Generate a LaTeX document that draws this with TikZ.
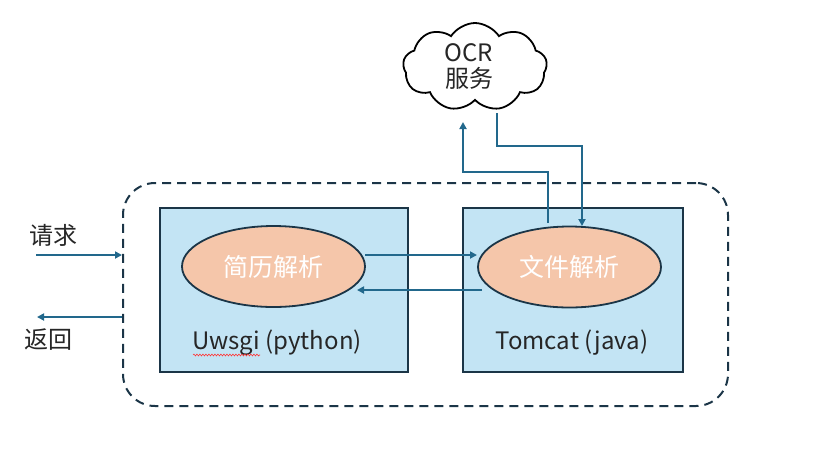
\documentclass[tikz,border=0pt]{standalone}
\usepackage{fontspec}
\setmainfont{Noto Sans CJK SC}
\usetikzlibrary{shapes.symbols,shapes.geometric,arrows.meta,decorations.pathmorphing}
\definecolor{arrowc}{HTML}{22688C}
\definecolor{navy}{HTML}{1B3547}
\definecolor{boxfill}{HTML}{C3E4F4}
\definecolor{ellfill}{HTML}{F5C6AA}
\tikzset{
  flow/.style={draw=arrowc, line width=1.8pt, -{Triangle[length=7pt,width=7pt]}},
  hostbox/.style={draw=navy, line width=2pt, fill=boxfill, minimum width=248pt, minimum height=164pt, inner sep=0pt},
  proc/.style={draw=navy, line width=1.8pt, fill=ellfill, ellipse, minimum width=183pt, minimum height=81pt, inner sep=0pt, text=white, font=\fontsize{25}{28}\selectfont},
  lbl/.style={font=\fontsize{24}{27}\selectfont, text=black!85, inner sep=0pt},
  cjklbl/.style={font=\fontsize{24}{27}\selectfont, text=black!85, inner sep=0pt}
}
\begin{document}
\begin{tikzpicture}[x=1pt,y=-1pt]
\useasboundingbox (0,0) rectangle (831,451);
% outer dashed container
\node[draw=navy, line width=2pt, dash pattern=on 9pt off 6pt, rounded corners=32pt,
      minimum width=605pt, minimum height=223pt, inner sep=0pt] (outer) at (425.5,294.5) {};
% hosts
\node[hostbox] (py) at (284,289.5) {};
\node[hostbox, minimum width=220pt] (jv) at (573,289.5) {};
\node[lbl] (pylbl) at (277,343) {Uwsgi (python)};
\node[lbl] (jvlbl) at (572,343) {Tomcat (java)};
\coordinate (sq1) at (193,355);
\coordinate (sq2) at (260,355);
\draw[red!80, line width=0.6pt, decorate, decoration={snake, amplitude=0.9pt, segment length=3pt}] (sq1) -- (sq2);
% processes
\node[proc] (resume) at (273.5,266.5) {简历解析};
\node[proc] (file) at (569.5,267) {文件解析};
% cloud
\node[cloud, cloud puffs=9, cloud puff arc=115, aspect=1.7, draw=black, line width=1.8pt,
      minimum width=144pt, minimum height=88pt, inner sep=0pt] (ocr) at (475,67) {};
\node[lbl, align=center] (ocrlbl) at (469,67) {OCR\\[-1pt]服务};
% side labels
\node[cjklbl] (req) at (53,235) {请求};
\node[cjklbl] (ret) at (48,340) {返回};
\coordinate (reqs) at (36,255);
\coordinate (rete) at (37,317);
\draw[flow] (reqs) -- (outer.west |- reqs);
\draw[flow] (outer.west |- rete) -- (rete);
% between processes
\coordinate (a1) at (365,255);
\coordinate (a2) at (477,255);
\coordinate (b1) at (482,290);
\coordinate (b2) at (357,290);
\draw[flow] (a1) -- (a2);
\draw[flow] (b1) -- (b2);
% to / from OCR
\coordinate (upstart) at (548,223);
\coordinate (uptip) at (463,122);
\draw[flow] (upstart) -- (548,172) -- (463,172) -- (uptip);
\coordinate (dnstart) at (497,113);
\coordinate (dntip) at (582,226);
\draw[flow] (dnstart) -- (497,146) -- (582,146) -- (dntip);
\end{tikzpicture}
\end{document}
